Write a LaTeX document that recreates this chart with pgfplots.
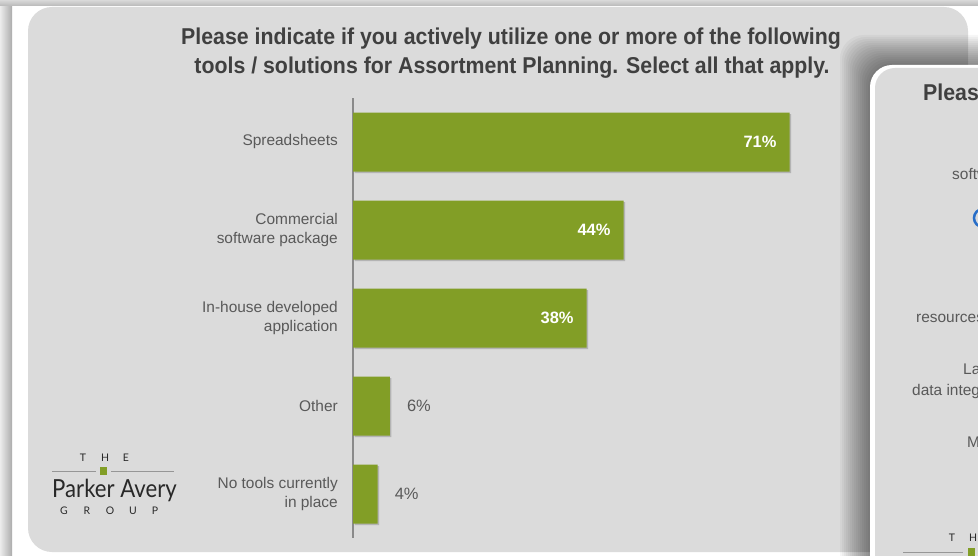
\documentclass[border=0pt]{standalone}
\usepackage{pgfplots}
\pgfplotsset{compat=1.18}
\usepackage{fontspec}
\setmainfont{Liberation Sans}
\newfontfamily\titlefont[FakeStretch=0.93]{Liberation Sans}
\newfontfamily\logofont[FakeStretch=0.89]{Lato}
\newfontfamily\logosmall{Lato}
\definecolor{panel}{RGB}{219,219,219}
\definecolor{bargreen}{RGB}{130,158,38}
\definecolor{lbl}{RGB}{89,89,89}
\definecolor{ttl}{RGB}{64,64,64}
\definecolor{axisgrey}{RGB}{138,138,138}
\definecolor{logotext}{RGB}{40,40,40}
\definecolor{logoline}{RGB}{150,150,150}
\definecolor{bluec}{RGB}{40,110,200}
\begin{document}
\begin{tikzpicture}[x=1bp,y=-1bp]
\useasboundingbox (0,0) rectangle (978,556);
\begin{scope}
\clip (0,0) rectangle (978,556);
\fill[white] (0,0) rectangle (978,556);
\shade[left color=gray!15, right color=gray!65] (0,0) rectangle (12,556);
\shade[top color=gray!30, bottom color=gray!55] (0,0) rectangle (978,6);
\fill[panel, rounded corners=24bp] (28,7) rectangle (968,552);
% title
\node[anchor=base, font=\titlefont\bfseries\fontsize{23}{28}\selectfont, text=ttl, inner sep=0pt] at (511,45) {Please indicate if you actively utilize one or more of the following};
\node[anchor=base, font=\titlefont\bfseries\fontsize{23}{28}\selectfont, text=ttl, inner sep=0pt] at (512,74) {tools / solutions for Assortment Planning. Select all that apply.};
% logo
\begin{scope}[font=\logosmall\fontsize{10.5}{12}\selectfont, text=logotext]
\node[anchor=base, inner sep=0pt] at (83,461) {T};
\node[anchor=base, inner sep=0pt] at (105,461) {H};
\node[anchor=base, inner sep=0pt] at (126,461) {E};
\node[anchor=base, inner sep=0pt] at (64,514) {G};
\node[anchor=base, inner sep=0pt] at (87,514) {R};
\node[anchor=base, inner sep=0pt] at (110,514) {O};
\node[anchor=base, inner sep=0pt] at (133,514) {U};
\node[anchor=base, inner sep=0pt] at (155,514) {P};
\end{scope}
\draw[logoline, line width=0.8bp] (52,471) -- (96,471) (111,471) -- (174,471);
\fill[bargreen] (100,467) rectangle (107,475);
\node[anchor=base west, inner sep=0pt, font=\logofont\fontsize{25}{30}\selectfont, text=logotext] at (52,497) {Parker Avery};
% second panel shadow and panel
\foreach \i in {1,...,15} {
  \fill[black, opacity=0.036, rounded corners=24bp] (870-2*\i,65-2*\i) rectangle (1010,600);
}
\fill[white, rounded corners=22bp] (870,65) rectangle (1010,600);
\fill[panel, rounded corners=20bp] (875,68) rectangle (1010,600);
\node[anchor=base west, font=\titlefont\bfseries\fontsize{23}{28}\selectfont, text=ttl, inner sep=0pt] at (923,101) {Please indicate};
\begin{scope}[font=\fontsize{15.5}{20}\selectfont, text=lbl]
\node[anchor=base west, inner sep=0pt] at (952,180) {software};
\node[anchor=base west, inner sep=0pt] at (916,323) {resources};
\node[anchor=base west, inner sep=0pt] at (963,375) {Lack};
\node[anchor=base west, inner sep=0pt] at (912,395) {data integration};
\node[anchor=base west, inner sep=0pt] at (967,447) {More};
\end{scope}
\draw[bluec, line width=2.5bp] (983,218) circle (9);
\node[anchor=base, inner sep=0pt, font=\logosmall\fontsize{10.5}{12}\selectfont, text=logotext] at (952,541) {T};
\node[anchor=base, inner sep=0pt, font=\logosmall\fontsize{10.5}{12}\selectfont, text=logotext] at (973,541) {H};
\draw[logoline, line width=0.8bp] (903,552) -- (963,552);
\fill[bargreen] (968,548) rectangle (975,556);
% chart
\begin{axis}[
  at={(353bp,-318bp)}, anchor=west,
  scale only axis, width=615bp, height=440bp,
  xmin=0, xmax=100, ymin=-0.5, ymax=4.5, y dir=reverse,
  xbar, bar width=59bp, bar shift=0pt,
  axis x line=none, axis y line=left,
  axis line style={axisgrey, line width=1.3bp, -},
  ytick={0,1,2,3,4},
  yticklabels={Spreadsheets,{Commercial\\software package},{In-house developed\\application},Other,{No tools currently\\in place}},
  major tick length=0pt,
  yticklabel style={align=right, text=lbl, font=\fontsize{15.5}{20}\selectfont, inner sep=0pt, xshift=-15bp},
  /pgf/number format/assume math mode=true,
  clip=false,
]
\addplot[fill=black, draw=none, opacity=0.18, xshift=1.5bp, yshift=-1.5bp] coordinates {(71,0) (44,1) (38,2) (6,3) (4,4)};
\addplot[fill=bargreen, draw=none,
  nodes near coords={\pgfmathprintnumber[assume math mode=true]{\pgfplotspointmeta}\%},
  nodes near coords style={anchor=east, inner sep=0pt, xshift=-13bp, text=white, font=\bfseries\fontsize{16.5}{20}\selectfont}]
  coordinates {(71,0) (44,1) (38,2)};
\addplot[fill=bargreen, draw=none,
  nodes near coords={\pgfmathprintnumber[assume math mode=true]{\pgfplotspointmeta}\%},
  nodes near coords style={anchor=west, inner sep=0pt, xshift=17bp, text=lbl, font=\fontsize{16.5}{20}\selectfont}]
  coordinates {(6,3) (4,4)};
\end{axis}
\end{scope}
\end{tikzpicture}
\end{document}
